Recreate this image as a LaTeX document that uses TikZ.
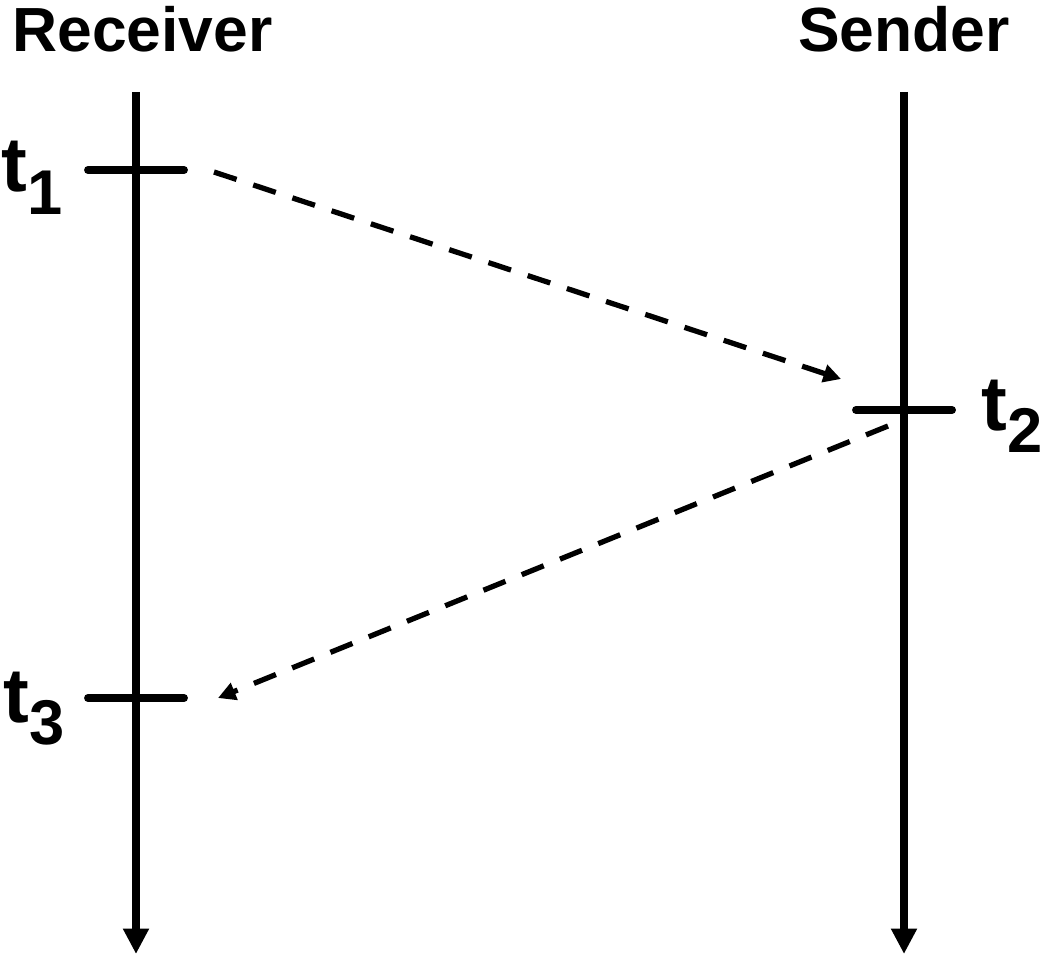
\documentclass[tikz,border=0pt]{standalone}
\usepackage{fontspec}
\setmainfont{Liberation Sans}
\usetikzlibrary{positioning, arrows.meta}

\newcommand{\tlabel}[1]{{\fontsize{44}{48}\selectfont t}\raisebox{-0.45cm}{#1}}

\begin{document}
\begin{tikzpicture}[
        x=0.02cm, y=-0.02cm,
        every node/.style={
            inner sep=0pt,
            font=\fontsize{35.5}{40}\bfseries
        },
        timeline/.style={
            -{Triangle[width=14pt,length=14.5pt]},
            line width=4.5pt
        },
        tick/.style={
            line width=4.5pt,
            line cap=round
        },
        tlab/.style={
            font=\fontsize{36}{40}\bfseries
        },
        msgarrow/.style={
            -{Triangle[width=10pt,length=10pt]},
            line width=3pt,
            dash pattern=on 13.5pt off 10pt
        }
    ]
    \useasboundingbox (0,0) rectangle (1043,956);

    % Zeitachsen
    \coordinate (rtop) at (136,92);
    \coordinate (rbot) at (136,954);
    \coordinate (stop) at (904,92);
    \coordinate (sbot) at (904,954);
    \draw[timeline] (rtop) -- (rbot);
    \draw[timeline] (stop) -- (sbot);

    \node[anchor=base west] (receiver) at (12,52) {Receiver};
    \node[anchor=base west] (sender) at (798,52) {Sender};

    % Zeitpunkte
    \coordinate (t1l) at (88,170);
    \coordinate (t1r) at (184,170);
    \coordinate (t2l) at (856,410);
    \coordinate (t2r) at (952,410);
    \coordinate (t3l) at (88,698);
    \coordinate (t3r) at (184,698);
    \draw[tick] (t1l) -- (t1r);
    \draw[tick] (t2l) -- (t2r);
    \draw[tick] (t3l) -- (t3r);

    \node[tlab, anchor=base west] (t1) at (1,192) {\tlabel{1}};
    \node[tlab, anchor=base west] (t2) at (981,430) {\tlabel{2}};
    \node[tlab, anchor=base west] (t3) at (3,722) {\tlabel{3}};

    % Nachrichten
    \coordinate (m1a) at (214,172);
    \coordinate (m1b) at (841,379);
    \coordinate (m2a) at (888,426);
    \coordinate (m2b) at (218,698);
    \draw[msgarrow] (m1a) -- (m1b);
    \draw[msgarrow] (m2a) -- (m2b);

\end{tikzpicture}
\end{document}
